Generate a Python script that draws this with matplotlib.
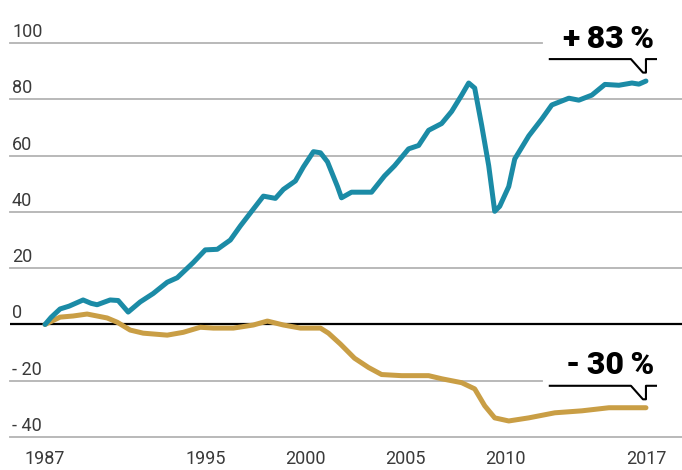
import numpy as np
import matplotlib.pyplot as plt

# values (% change since 1987)
blue_years = [1987.0, 1987.3, 1987.75, 1988.2, 1988.9, 1989.3, 1989.6, 1990.25, 1990.65,
              1991.15, 1991.75, 1992.4, 1993.1, 1993.6, 1994.4, 1995.0, 1995.6, 1996.25,
              1996.75, 1997.4, 1997.9, 1998.5, 1998.9, 1999.5, 1999.9, 2000.4, 2000.75,
              2001.1, 2001.6, 2001.8, 2002.3, 2002.8, 2003.3, 2003.95, 2004.45, 2005.15,
              2005.65, 2006.15, 2006.8, 2007.3, 2007.8, 2008.15, 2008.45, 2008.8, 2009.15,
              2009.45, 2009.7, 2010.15, 2010.45, 2011.15, 2011.8, 2012.3, 2013.15, 2013.65,
              2014.3, 2014.95, 2015.65, 2016.3, 2016.65, 2017.0]
blue_vals = [0.0, 2.5, 5.5, 6.5, 8.7, 7.5, 7.0, 8.7, 8.5,
             4.4, 8.0, 11.0, 15.0, 16.6, 22.0, 26.5, 26.7, 30.0,
             35.0, 41.0, 45.6, 44.8, 48.0, 51.0, 56.0, 61.4, 61.0,
             57.8, 49.0, 45.0, 47.0, 47.0, 47.0, 52.8, 56.4, 62.4,
             63.6, 69.0, 71.4, 75.7, 81.5, 85.8, 84.0, 70.7, 56.4,
             40.2, 42.0, 49.0, 58.8, 67.0, 73.0, 78.0, 80.4, 79.7,
             81.5, 85.3, 85.0, 85.8, 85.4, 86.5]

gold_years = [1987.0, 1987.75, 1988.4, 1989.1, 1990.1, 1990.6, 1991.25, 1991.9, 1993.1,
              1993.9, 1994.75, 1995.4, 1996.4, 1997.4, 1998.1, 1998.9, 1999.75, 2000.75,
              2001.15, 2001.75, 2002.45, 2003.15, 2003.8, 2004.8, 2006.15, 2006.8, 2007.8,
              2008.45, 2008.95, 2009.45, 2010.15, 2011.15, 2012.45, 2013.8, 2015.15,
              2016.15, 2017.0]
gold_vals = [0.0, 2.6, 3.0, 3.7, 2.3, 0.8, -2.0, -3.1, -3.8,
             -2.8, -1.0, -1.3, -1.3, -0.2, 1.2, -0.2, -1.3, -1.3,
             -3.1, -7.0, -12.0, -15.3, -17.8, -18.2, -18.2, -19.3, -20.7,
             -22.9, -28.9, -33.2, -34.3, -33.2, -31.4, -30.7, -29.6,
             -29.6, -29.6]

grid_vals = [100, 80, 60, 40, 20, -20, -40]
grid_labels = ['100', '80', '60', '40', '20', '- 20', '- 40']
short_grids = [100, -20]  # these stop before the callouts
year_ticks = [1987, 1995, 2000, 2005, 2010, 2017]
blue_label = '+\u200983\u2009%'
gold_label = '-\u200930\u2009%'

blue = '#1b8ba6'
gold = '#c99e45'
grey = '#b3b3b3'
txt = '#3a3a3a'
px = 0.72  # points per pixel at dpi 100

fig = plt.figure(figsize=(6.82, 4.70), dpi=100)
ax = fig.add_axes([10 / 682, 33 / 470, 672 / 682, 437 / 470])
x0, x1 = 1985.25, 2018.8
ax.set_xlim(x0, x1)
ax.set_ylim(-40, 115.3)
ax.axis('off')

for v, lab in zip(grid_vals, grid_labels):
    xe = 2011.8 if v in short_grids else x1
    ax.plot([x0, xe], [v, v], color=grey, lw=1.3, zorder=1, clip_on=False)
    ax.annotate(lab, xy=(x0, v), xytext=(2 * px, 6 * px), textcoords='offset points',
                ha='left', va='baseline', fontsize=13, color=txt, family='Roboto')
ax.annotate('0', xy=(x0, 0), xytext=(2 * px, 6 * px), textcoords='offset points',
            ha='left', va='baseline', fontsize=13, color=txt, family='Roboto')
ax.plot([x0, x1], [0, 0], color='black', lw=1.6, zorder=2)

for yr in year_ticks:
    ax.annotate(str(yr), xy=(yr, -40), xytext=(0, -27 * px), textcoords='offset points',
                ha='center', va='baseline', fontsize=13, color=txt, family='Roboto')

ax.plot(gold_years, gold_vals, color=gold, lw=3.6, solid_capstyle='round', zorder=3)
ax.plot(blue_years, blue_vals, color=blue, lw=3.6, solid_capstyle='round', zorder=4)


def callout(xe, ye, label):
    top = ye + 7.8
    bot = ye + 3.0
    xs = [2012.2, 2016.25, 2016.85, 2017.0, 2017.0, 2017.5]
    ys = [top, top, bot, bot, top, top]
    ax.plot(xs, ys, color='black', lw=1.5, zorder=5, solid_joinstyle='round')
    ax.text(xe + 0.4, ye + 11.9, label, ha='right', va='baseline', fontsize=23,
            fontweight='heavy', color='black', family=['Roboto', 'DejaVu Sans'])


callout(blue_years[-1], blue_vals[-1], blue_label)
callout(gold_years[-1], gold_vals[-1], gold_label)

fig.savefig('out.png', dpi=100, facecolor='white')
